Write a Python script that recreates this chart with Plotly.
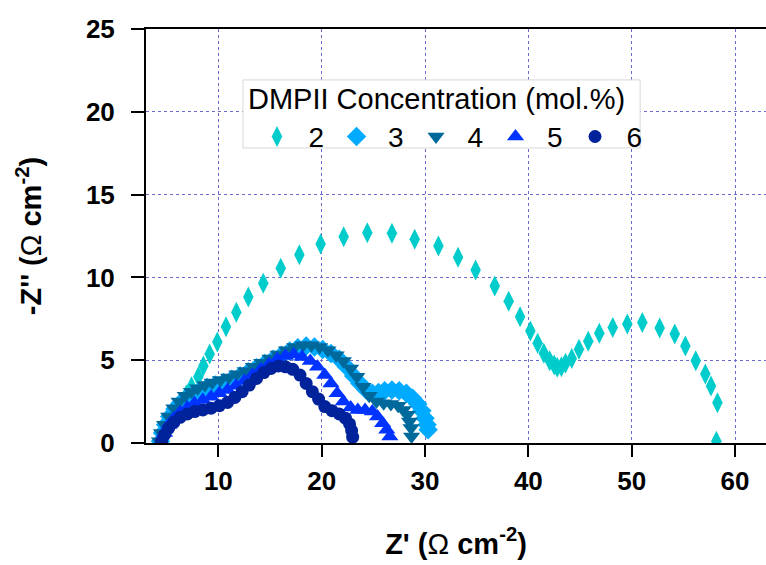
import plotly.graph_objects as go

# ---- data ----
concentrations = ["2", "3", "4", "5", "6"]
legend_title = "DMPII Concentration (mol.%)"

x_c2 = [4.6, 4.8, 5.0, 5.3, 5.6, 6.0, 6.4, 6.9, 7.4, 8.06, 8.55, 9.16, 9.9, 10.74, 11.74,
        12.9, 14.35, 16.04, 17.84, 19.9, 22.13, 24.42, 26.8, 29.0, 31.3, 33.2, 34.9, 36.75,
        38.1, 39.2, 40.2, 40.9, 41.5, 42.07, 42.5, 42.8, 43.2, 43.6, 44.2, 44.9, 45.8, 46.87,
        48.17, 49.58, 51.03, 52.71, 54.17, 55.2, 56.2, 57.13, 57.68, 58.3, 58.2]
y_c2 = [0.0, 0.4, 0.8, 1.2, 1.6, 2.0, 2.4, 2.9, 3.4, 4.0, 4.65, 5.37, 6.1, 7.02, 7.89,
        8.82, 9.64, 10.55, 11.37, 12.02, 12.46, 12.7, 12.66, 12.3, 11.9, 11.21, 10.45, 9.48,
        8.56, 7.63, 6.76, 6.02, 5.42, 4.97, 4.71, 4.57, 4.61, 4.81, 5.11, 5.66, 6.14, 6.62,
        6.98, 7.19, 7.27, 6.94, 6.58, 5.86, 4.97, 4.17, 3.44, 2.43, 0.1]

x_c3 = [4.4, 4.6, 4.9, 5.3, 5.8, 6.3, 6.9, 7.5, 8.2, 8.9, 9.7, 10.5, 11.3, 12.1, 12.9,
        13.7, 14.5, 15.3, 16.1, 16.9, 17.7, 18.5, 19.3, 20.1, 20.9, 21.7, 22.4, 23.1, 23.7,
        24.3, 24.9, 25.5, 26.1, 26.8, 27.5, 28.2, 28.8, 29.3, 29.7, 30.0, 30.2, 30.3]
y_c3 = [0.1, 0.6, 1.1, 1.6, 2.05, 2.4, 2.7, 2.95, 3.15, 3.35, 3.5, 3.65, 3.85, 4.05, 4.3,
        4.55, 4.8, 5.05, 5.3, 5.55, 5.75, 5.85, 5.8, 5.65, 5.4, 5.05, 4.6, 4.05, 3.6,
        3.2, 3.0, 3.05, 3.15, 3.2, 3.15, 3.0, 2.7, 2.35, 1.95, 1.5, 1.1, 0.8]

x_c4 = [4.3, 4.5, 4.8, 5.2, 5.7, 6.2, 6.8, 7.4, 8.0, 8.7, 9.4, 10.2, 11.0, 11.8, 12.6,
        13.4, 14.2, 15.0, 15.8, 16.6, 17.4, 18.2, 19.0, 19.8, 20.6, 21.4, 22.1, 22.8, 23.4,
        24.0, 24.6, 25.3, 26.0, 26.7, 27.4, 27.9, 28.3, 28.5, 28.65, 28.7]
y_c4 = [0.1, 0.6, 1.1, 1.6, 2.1, 2.5, 2.85, 3.1, 3.3, 3.5, 3.65, 3.8, 3.95, 4.15, 4.35,
        4.6, 4.85, 5.1, 5.35, 5.6, 5.8, 5.9, 5.9, 5.8, 5.6, 5.3, 4.95, 4.5, 4.0,
        3.4, 2.85, 2.5, 2.4, 2.35, 2.25, 2.0, 1.7, 1.3, 0.9, 0.4]

x_c5 = [4.5, 4.8, 5.2, 5.7, 6.3, 7.0, 7.7, 8.5, 9.3, 10.1, 10.9, 11.7, 12.5, 13.3, 14.1,
        14.9, 15.7, 16.5, 17.3, 18.1, 18.9, 19.6, 20.3, 20.9, 21.5, 22.1, 22.8, 23.5, 24.2,
        24.9, 25.4, 25.9, 26.3, 26.6]
y_c5 = [0.1, 0.6, 1.1, 1.5, 1.85, 2.15, 2.4, 2.6, 2.8, 3.0, 3.2, 3.45, 3.75, 4.1, 4.45,
        4.75, 5.05, 5.25, 5.35, 5.2, 4.95, 4.6, 4.1, 3.6, 3.0, 2.5, 2.15, 2.0, 2.0,
        1.9, 1.6, 1.2, 0.8, 0.4]

x_c6 = [4.5, 4.8, 5.2, 5.7, 6.3, 7.0, 7.7, 8.5, 9.3, 10.1, 10.9, 11.6, 12.3, 13.0, 13.7,
        14.4, 15.1, 15.8, 16.5, 17.2, 17.9, 18.5, 19.1, 19.7, 20.3, 21.0, 21.7, 22.3, 22.7,
        22.9, 23.0]
y_c6 = [0.1, 0.5, 0.9, 1.25, 1.55, 1.75, 1.9, 2.0, 2.1, 2.25, 2.45, 2.75, 3.1, 3.5, 3.9,
        4.25, 4.5, 4.65, 4.6, 4.45, 4.1, 3.6, 3.1, 2.65, 2.2, 1.95, 1.75, 1.5, 1.15,
        0.75, 0.35]

x_ticks = [10, 20, 30, 40, 50, 60]
y_ticks = [0, 5, 10, 15, 20, 25]

# ---- styles ----
styles = {
    "2": dict(symbol="diamond-tall", color="#00CCCC", size=15),
    "3": dict(symbol="diamond", color="#00AAFF", size=15),
    "4": dict(symbol="triangle-down", color="#00699C", size=15),
    "5": dict(symbol="triangle-up", color="#0033FF", size=15),
    "6": dict(symbol="circle", color="#00229A", size=13),
}
data = {"2": (x_c2, y_c2), "3": (x_c3, y_c3), "4": (x_c4, y_c4),
        "5": (x_c5, y_c5), "6": (x_c6, y_c6)}

FONT = "Liberation Sans, Arial, sans-serif"
GRID = "#6a6acc"

fig = go.Figure()
for c in concentrations:
    xs, ys = data[c]
    st = styles[c]
    fig.add_trace(go.Scatter(
        x=xs, y=ys, mode="markers", name=c,
        marker=dict(symbol=st["symbol"], color=st["color"], size=st["size"],
                    line=dict(width=0)),
    ))

# legend frame + title
fig.add_shape(type="rect", xref="paper", yref="paper",
              x0=0.1565, x1=0.797, y0=0.7126, y1=0.877,
              fillcolor="white", line=dict(color="#d8d8d8", width=1), layer="above")
fig.add_annotation(text=legend_title, xref="paper", yref="paper",
                   x=0.161, y=0.831, xanchor="left", yanchor="middle", showarrow=False,
                   font=dict(size=29, family=FONT, color="black"))

fig.update_layout(
    width=766, height=565,
    margin=dict(l=146, r=0, t=29, b=122, autoexpand=False),
    paper_bgcolor="white", plot_bgcolor="white",
    font=dict(family=FONT, color="black"),
    legend=dict(
        orientation="h", x=0.1605, y=0.80, xanchor="left", yanchor="top",
        bgcolor="rgba(0,0,0,0)", borderwidth=0,
        font=dict(size=28, family=FONT),
        itemwidth=53, entrywidth=11.5, entrywidthmode="pixels",
    ),
    xaxis=dict(
        range=[3, 63], tickvals=x_ticks, ticks="outside", ticklen=12, tickwidth=2,
        tickcolor="black", showline=True, linecolor="black", linewidth=2, mirror=True,
        showgrid=True, gridcolor=GRID, griddash="dot", gridwidth=1, zeroline=False,
        tickfont=dict(size=26, family=FONT, weight="bold"),
        ticklabelstandoff=2,
        title=dict(text="Z' (<span style='font-weight:normal'>Ω</span> cm<sup>-2</sup>)",
                   font=dict(size=29, family=FONT, weight="bold"), standoff=38),
    ),
    yaxis=dict(
        range=[0, 25], tickvals=y_ticks, ticks="outside", ticklen=13, tickwidth=2,
        tickcolor="black", showline=True, linecolor="black", linewidth=2,
        showgrid=True, gridcolor=GRID, griddash="dot", gridwidth=1, zeroline=False,
        tickfont=dict(size=26, family=FONT, weight="bold"),
        ticklabelstandoff=11,
        title=dict(text="-Z'' (<span style='font-weight:normal'>Ω</span> cm<sup>-2</sup>)",
                   font=dict(size=29, family=FONT, weight="bold"), standoff=36),
    ),
)

fig.write_html("out.html", config={"displayModeBar": False},
               post_script="document.body.style.margin='0';document.body.style.overflow='hidden';")
